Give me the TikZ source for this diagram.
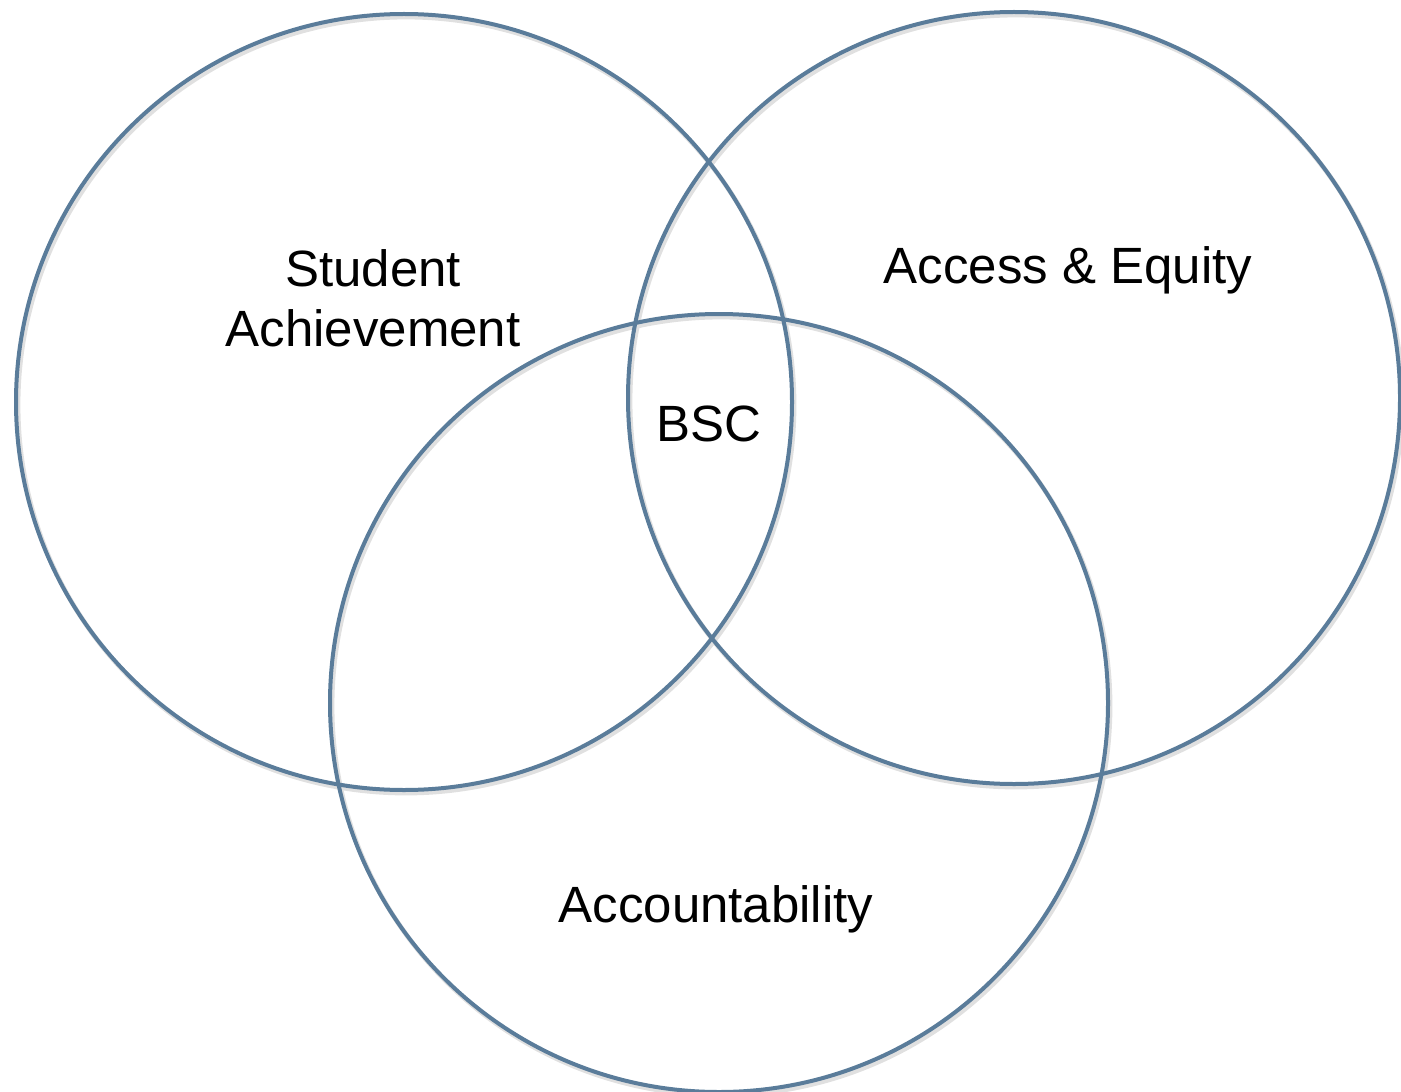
\documentclass[tikz,border=0pt]{standalone}
\usepackage{fontspec}
\setmainfont{Liberation Sans}
\definecolor{ringblue}{RGB}{90,124,154}
\tikzset{
  ring/.style={draw=ringblue, line width=2pt},
  ringshade/.style={draw=black!12, line width=2.4pt},
  lbl/.style={inner sep=0pt, align=center, font=\fontsize{25.5}{30}\selectfont}
}
\begin{document}
\begin{tikzpicture}[x=0.5pt,y=0.5pt,yscale=-1,xscale=1]
\useasboundingbox (0,0) rectangle (1401,1091);

% centres of the three sets
\coordinate (cstudent) at (404,402);
\coordinate (caccess) at (1014,398);
\coordinate (caccount) at (719,703);

% faint shadow under each ring
\draw[ringshade] ([shift={(2,3)}]cstudent) circle (388*0.5pt);
\draw[ringshade] ([shift={(2,3)}]caccess) circle (386*0.5pt);
\draw[ringshade] ([shift={(2,3)}]caccount) circle (389*0.5pt);

% the rings
\draw[ring] (cstudent) circle (388*0.5pt);
\draw[ring] (caccess) circle (386*0.5pt);
\draw[ring] (caccount) circle (389*0.5pt);

% labels
\node[lbl] (student) at (373,298) {Student\\Achievement};
\node[lbl] (access) at (1068,270) {Access \& Equity};
\node[lbl] (bsc) at (709,424) {BSC};
\node[lbl] (account) at (716,909) {Accountability};
\end{tikzpicture}
\end{document}
